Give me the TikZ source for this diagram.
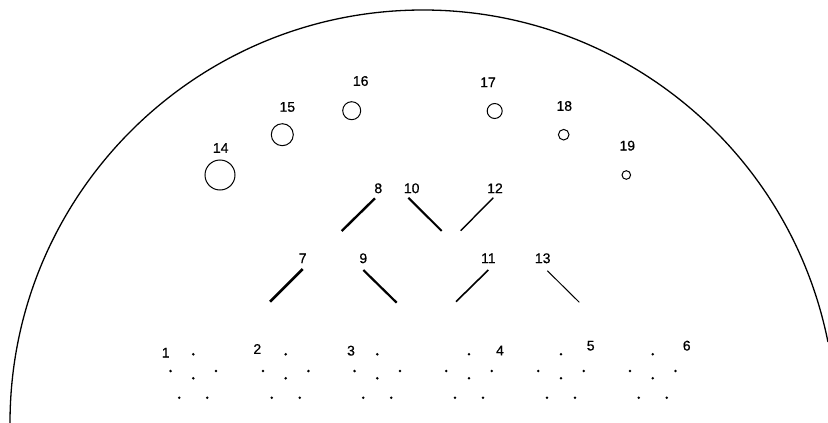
\documentclass[tikz,border=0pt]{standalone}
\usepackage{fontspec}
\setmainfont{Liberation Sans}
\newfontfamily\lblfont[FakeBold=0.6]{Liberation Sans}
\begin{document}
\begin{tikzpicture}[x=1pt,y=-1pt,
  lbl/.style={font=\lblfont\fontsize{14}{15}\selectfont, inner sep=0pt, anchor=center},
  ring/.style={circle, draw, line width=1pt, inner sep=0pt},
  dotmark/.style={circle, fill, inner sep=0pt, minimum size=2.8pt},
  bar/.style={line cap=butt}]
\useasboundingbox (0,0) rectangle (828,423);
% outer arc
\draw[line width=1.3pt] (10,423) arc[start angle=180, end angle=11.31, radius=413pt];
% circles 14-19
\node[ring, minimum size=30pt] (c14) at (220,175) {};
\node[ring, minimum size=22pt] (c15) at (282.3,134.7) {};
\node[ring, minimum size=18pt] (c16) at (351.7,110.7) {};
\node[ring, minimum size=15pt] (c17) at (494.7,111) {};
\node[ring, minimum size=10.6pt] (c18) at (563.7,134.7) {};
\node[ring, minimum size=8.6pt] (c19) at (626.3,175) {};
\node[lbl] (l14) at (220.7,148) {14};
\node[lbl] (l15) at (287.3,107) {15};
\node[lbl] (l16) at (360.7,81) {16};
\node[lbl] (l17) at (488,82.3) {17};
\node[lbl] (l18) at (564.3,106) {18};
\node[lbl] (l19) at (627.3,145.7) {19};
% segments 7-13
\coordinate (s8a) at (375,198.3); \coordinate (s8b) at (341.7,231);
\coordinate (s10a) at (408.3,197.7); \coordinate (s10b) at (441.7,231);
\coordinate (s12a) at (493.3,197.7); \coordinate (s12b) at (460.7,230.7);
\coordinate (s7a) at (302.7,269); \coordinate (s7b) at (270,301.7);
\coordinate (s9a) at (363.3,270); \coordinate (s9b) at (396.7,302.7);
\coordinate (s11a) at (488.3,270); \coordinate (s11b) at (456,301.7);
\coordinate (s13a) at (547.3,270.7); \coordinate (s13b) at (579.3,302.3);
\draw[bar, line width=2.6pt] (s7a) -- (s7b);
\draw[bar, line width=2.4pt] (s8a) -- (s8b);
\draw[bar, line width=2.2pt] (s9a) -- (s9b);
\draw[bar, line width=2.0pt] (s10a) -- (s10b);
\draw[bar, line width=1.6pt] (s11a) -- (s11b);
\draw[bar, line width=1.4pt] (s12a) -- (s12b);
\draw[bar, line width=1.0pt] (s13a) -- (s13b);
\node[lbl] (l8) at (378.3,188.3) {8};
\node[lbl] (l10) at (411.7,188.3) {10};
\node[lbl] (l12) at (495,188.3) {12};
\node[lbl] (l7) at (302.7,258.3) {7};
\node[lbl] (l9) at (363.3,258.3) {9};
\node[lbl] (l11) at (488.3,258.3) {11};
\node[lbl] (l13) at (542.7,258.3) {13};
% dot clusters 1-6
\foreach \cx/\nm in {193.3/1, 285.7/2, 377.3/3, 469/4, 561/5, 652.7/6}{
  \node[dotmark] (d\nm a) at (\cx,354.3) {};
  \node[dotmark] (d\nm b) at ({\cx-22.7},371) {};
  \node[dotmark] (d\nm c) at ({\cx+22.7},371) {};
  \node[dotmark] (d\nm d) at (\cx,378.3) {};
  \node[dotmark] (d\nm e) at ({\cx-14},397.7) {};
  \node[dotmark] (d\nm f) at ({\cx+14},397.7) {};
}
\node[lbl] (l1) at (165.7,352.7) {1};
\node[lbl] (l2) at (257.3,349) {2};
\node[lbl] (l3) at (351,350.7) {3};
\node[lbl] (l4) at (500,350.5) {4};
\node[lbl] (l5) at (590.7,345.7) {5};
\node[lbl] (l6) at (686.7,345.7) {6};
\end{tikzpicture}
\end{document}
